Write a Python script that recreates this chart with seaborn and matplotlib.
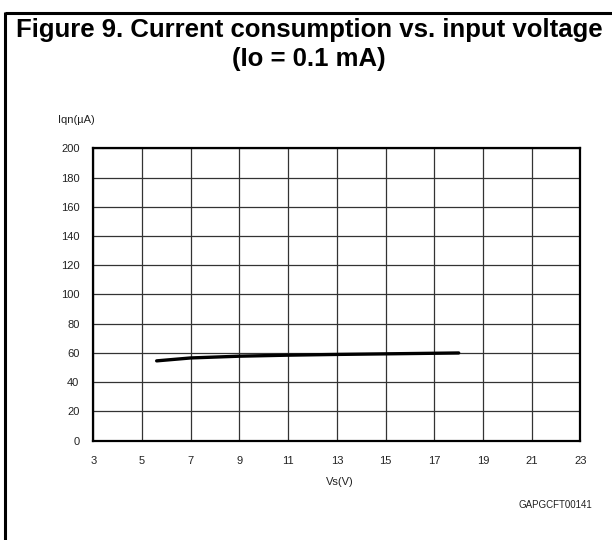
import matplotlib
matplotlib.use("Agg")
import matplotlib.pyplot as plt
import seaborn as sns
import pandas as pd
from matplotlib.lines import Line2D

# --- DATA ---
vs = [5.6, 7, 9, 11, 13, 15, 17, 18]
iqn = [54.6, 56.6, 57.8, 58.5, 59.0, 59.4, 59.8, 60.0]
x_ticks = [3, 5, 7, 9, 11, 13, 15, 17, 19, 21, 23]
y_ticks = [0, 20, 40, 60, 80, 100, 120, 140, 160, 180, 200]

df = pd.DataFrame({"Vs": vs, "Iqn": iqn})

# --- STYLE ---
sns.set_style("white")
plt.rcParams["font.family"] = ["Liberation Sans", "DejaVu Sans"]

fig = plt.figure(figsize=(6.12, 5.4), dpi=100)
ax = fig.add_axes([0.1525, 0.1839, 0.796, 0.5415])

sns.lineplot(data=df, x="Vs", y="Iqn", ax=ax, color="black", linewidth=2.4)

ax.set_xlim(3, 23)
ax.set_ylim(0, 200)
ax.set_xticks(x_ticks)
ax.set_yticks(y_ticks)
ax.grid(True, color="#333333", linewidth=0.9)
for s in ax.spines.values():
    s.set_visible(True)
    s.set_color("black")
    s.set_linewidth(1.6)
ax.tick_params(length=0, labelsize=8, colors="#222222")
ax.tick_params(axis="x", pad=11)
ax.tick_params(axis="y", pad=10)
ax.set_xlabel("")
ax.set_ylabel("")

fig.text(0.556, 0.107, "Vs(V)", fontsize=8, ha="center", va="center", color="#222222")
fig.text(0.095, 0.777, "Iqn(µA)", fontsize=8, ha="left", va="center", color="#222222")
fig.text(0.967, 0.065, "GAPGCFT00141", fontsize=7, ha="right", va="center", color="#222222")

# title and page frame
fig.text(0.505, 0.944, "Figure 9. Current consumption vs. input voltage",
         fontsize=18.5, fontweight="bold", ha="center", va="center", color="black")
fig.text(0.505, 0.891, "(Io = 0.1 mA)",
         fontsize=18.5, fontweight="bold", ha="center", va="center", color="black")
fig.add_artist(Line2D([0.008, 1.0], [0.976, 0.976], color="black", linewidth=2.2,
                      solid_capstyle="butt", transform=fig.transFigure))
fig.add_artist(Line2D([0.008, 0.008], [0.0, 0.978], color="black", linewidth=2.2,
                      solid_capstyle="butt", transform=fig.transFigure))

plt.savefig("out.png", dpi=100)
